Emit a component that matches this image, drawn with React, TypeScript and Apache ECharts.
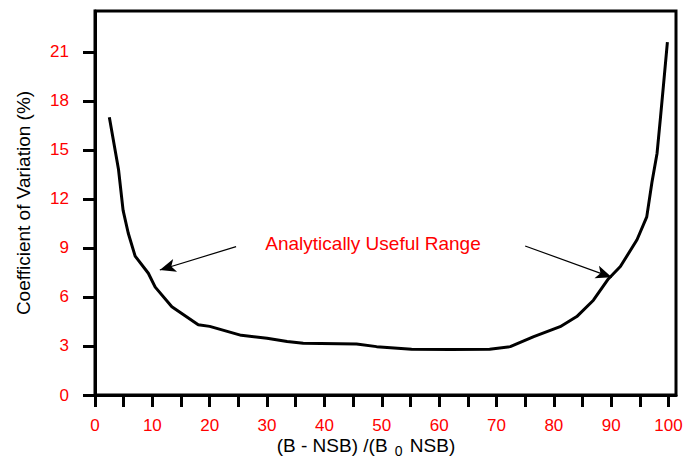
import React, { useEffect, useRef } from "react";
import * as echarts from "echarts";

// Curve: ratio (%) vs coefficient of variation (%)
const ratioValues = [2.5, 4.1, 4.9, 5.8, 7.0, 9.3, 10.5, 13.4, 18.0, 20.0, 25.5, 30.0, 33.5, 36.3, 45.6, 49.1, 55.2, 62.0, 68.8, 72.4, 76.5, 81.1, 84.0, 86.9, 89.5, 91.6, 94.5, 96.2, 97.1, 98.0, 98.6, 99.1, 99.8];
const cvValues = [17.0, 13.8, 11.3, 9.9, 8.5, 7.45, 6.6, 5.4, 4.3, 4.2, 3.65, 3.47, 3.27, 3.16, 3.12, 2.96, 2.8, 2.78, 2.8, 2.96, 3.57, 4.18, 4.8, 5.8, 7.1, 7.86, 9.5, 10.9, 13.0, 14.8, 17.0, 18.9, 21.6];

const xTicks = [0, 5, 10, 15, 20, 25, 30, 35, 40, 45, 50, 55, 60, 65, 70, 75, 80, 85, 90, 95, 100];
const xLabels = [0, 10, 20, 30, 40, 50, 60, 70, 80, 90, 100];
const yTicks = [0, 3, 6, 9, 12, 15, 18, 21];

// Annotation arrows: [startX, startY, endX, endY] in data units
const leftArrow = [24.6, 9.08, 11.3, 7.65];
const rightArrow = [75.0, 9.12, 90.1, 7.2];
const annotationText = "Analytically Useful Range";
const xAxisTitle = "(B - NSB) /(B {sub|0} NSB)";
const yAxisTitle = "Coefficient of Variation (%)";

const FONT = "'Liberation Sans', Arial, sans-serif";

export default function App() {
  const ref = useRef<HTMLDivElement>(null);
  useEffect(() => {
    if (!ref.current) return;
    const chart = echarts.init(ref.current, undefined, { renderer: "svg" });
    chart.setOption({
      animation: false,
      backgroundColor: "#fff",
      grid: {
        left: 95,
        top: 11,
        right: 18,
        bottom: 70,
        show: true,
        borderColor: "#000",
        borderWidth: 3,
      },
      xAxis: {
        type: "value",
        min: 0,
        max: 101.3,
        axisLine: { show: true, lineStyle: { color: "#000", width: 3 } },
        axisTick: {
          show: true,
          customValues: xTicks,
          length: 12,
          lineStyle: { color: "#000", width: 3 },
        },
        axisLabel: {
          customValues: xLabels,
          color: "#ff0000",
          fontFamily: FONT,
          fontSize: 17,
          margin: 22,
        },
        splitLine: { show: false },
      },
      yAxis: {
        type: "value",
        min: 0,
        max: 23.5,
        name: yAxisTitle,
        nameLocation: "middle",
        nameGap: 62,
        nameTextStyle: { color: "#000", fontFamily: FONT, fontSize: 19 },
        axisLine: { show: true, lineStyle: { color: "#000", width: 3 } },
        axisTick: {
          show: true,
          customValues: yTicks,
          length: 12,
          lineStyle: { color: "#000", width: 3 },
        },
        axisLabel: {
          customValues: yTicks,
          color: "#ff0000",
          fontFamily: FONT,
          fontSize: 17,
          margin: 26,
        },
        splitLine: { show: false },
      },
      graphic: [
        {
          type: "text",
          x: 373,
          y: 243,
          style: {
            text: annotationText,
            fill: "#ff0000",
            font: `19px ${FONT}`,
            align: "center",
            verticalAlign: "middle",
          },
        },
        {
          type: "text",
          x: 366,
          y: 445,
          style: {
            text: xAxisTitle,
            fill: "#000",
            fontFamily: FONT,
            fontSize: 19,
            align: "center",
            verticalAlign: "middle",
            rich: {
              sub: { fontFamily: FONT, fontSize: 14, padding: [12, 2, 0, 2], fill: "#000" },
            },
          },
        },
      ],
      series: [
        {
          type: "line",
          data: ratioValues.map((x, i) => [x, cvValues[i]]),
          showSymbol: false,
          symbol: "none",
          lineStyle: { color: "#000", width: 3 },
          silent: true,
          markLine: {
            silent: true,
            symbol: ["none", "arrow"],
            symbolSize: [10, 16],
            label: { show: false },
            lineStyle: { color: "#000", width: 1.2, type: "solid" },
            data: [
              [
                { coord: [leftArrow[0], leftArrow[1]] },
                { coord: [leftArrow[2], leftArrow[3]] },
              ],
              [
                { coord: [rightArrow[0], rightArrow[1]] },
                { coord: [rightArrow[2], rightArrow[3]] },
              ],
            ],
          },
        },
      ],
    });
    return () => chart.dispose();
  }, []);
  return <div ref={ref} style={{ width: 694, height: 465, position: "absolute", left: 0, top: 0 }} />;
}
